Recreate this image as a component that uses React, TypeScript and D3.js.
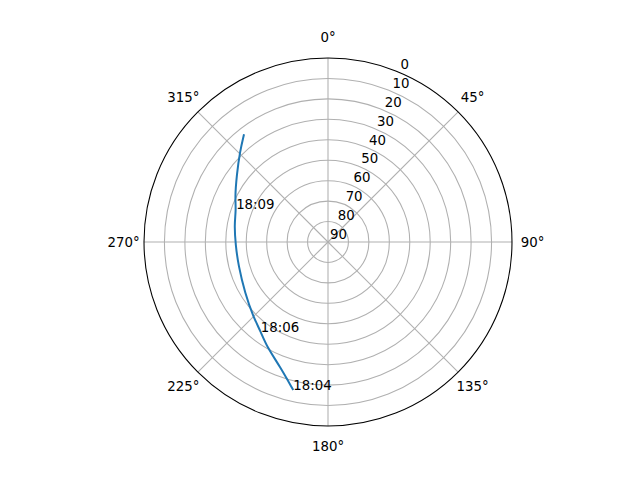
import React, { useEffect, useRef } from "react";
import * as d3 from "d3";

const trackAz = [193.2, 201.0, 210.3, 216.9, 225.0, 238.3, 255.6, 268.1, 280.3, 289.6, 295.2, 306.3, 315.7, 322.05];
const trackEl = [15.6, 24.65, 30.7, 35.2, 38.3, 42.3, 44.7, 44.8, 43.4, 42.3, 39.7, 34.6, 28.3, 23.2];
const labelTimes = ["18:04", "18:06", "18:09"];
const labelAz = [193.2, 216.9, 289.6];
const labelEl = [15.6, 35.2, 42.3];
const thetaTicks = [0, 45, 90, 135, 180, 225, 270, 315];
const rTicks = [0, 10, 20, 30, 40, 50, 60, 70, 80, 90];

export default function App() {
  const ref = useRef<SVGSVGElement>(null);
  useEffect(() => {
    const W = 640, H = 480;
    const cx = 328, cy = 242, R = 184;
    const svg = d3.select(ref.current!);
    svg.selectAll("*").remove();
    svg.append("rect").attr("width", W).attr("height", H).attr("fill", "white");
    const g = svg.append("g").attr("transform", `translate(${cx},${cy})`);
    const r = d3.scaleLinear().domain([90, 0]).range([0, R]);
    const ang = (az: number) => (az * Math.PI) / 180;
    const px = (az: number, el: number) => r(el) * Math.sin(ang(az));
    const py = (az: number, el: number) => -r(el) * Math.cos(ang(az));
    const font = "DejaVu Sans, sans-serif";

    g.selectAll("circle.ring")
      .data(rTicks.filter((t) => t > 0 && t < 90))
      .join("circle")
      .attr("r", (d) => r(d))
      .attr("fill", "none")
      .attr("stroke", "#b0b0b0")
      .attr("stroke-width", 1.07);
    g.selectAll("line.spoke")
      .data(thetaTicks)
      .join("line")
      .attr("x1", 0)
      .attr("y1", 0)
      .attr("x2", (d) => px(d, 0))
      .attr("y2", (d) => py(d, 0))
      .attr("stroke", "#b0b0b0")
      .attr("stroke-width", 1.07);

    const pts: [number, number][] = trackAz.map((a, i) => [px(a, trackEl[i]), py(a, trackEl[i])]);
    g.append("path")
      .attr("d", d3.line().curve(d3.curveBasis)(pts)!)
      .attr("fill", "none")
      .attr("stroke", "#1f77b4")
      .attr("stroke-width", 2);

    g.append("circle").attr("r", R).attr("fill", "none").attr("stroke", "black").attr("stroke-width", 1.07);

    g.selectAll("text.theta")
      .data(thetaTicks)
      .join("text")
      .attr("x", (d) => (R + 20.5) * Math.sin(ang(d)))
      .attr("y", (d) => -(R + 20.5) * Math.cos(ang(d)))
      .attr("text-anchor", "middle")
      .attr("dominant-baseline", "central")
      .attr("font-family", font)
      .attr("font-size", 13.33)
      .text((d) => `${d}°`);

    g.selectAll("text.rl")
      .data(rTicks)
      .join("text")
      .attr("x", (d) => px(22.5, d) + 2)
      .attr("y", (d) => py(22.5, d) - 3)
      .attr("text-anchor", "start")
      .attr("font-family", font)
      .attr("font-size", 13.33)
      .text((d) => `${d}`);

    g.selectAll("text.tl")
      .data(labelTimes)
      .join("text")
      .attr("x", (d, i) => px(labelAz[i], labelEl[i]))
      .attr("y", (d, i) => py(labelAz[i], labelEl[i]))
      .attr("text-anchor", "start")
      .attr("font-family", font)
      .attr("font-size", 13.33)
      .text((d) => d);
  }, []);
  return (
    <svg
      ref={ref}
      width={640}
      height={480}
      style={{ position: "absolute", left: 0, top: 0, display: "block" }}
    />
  );
}
